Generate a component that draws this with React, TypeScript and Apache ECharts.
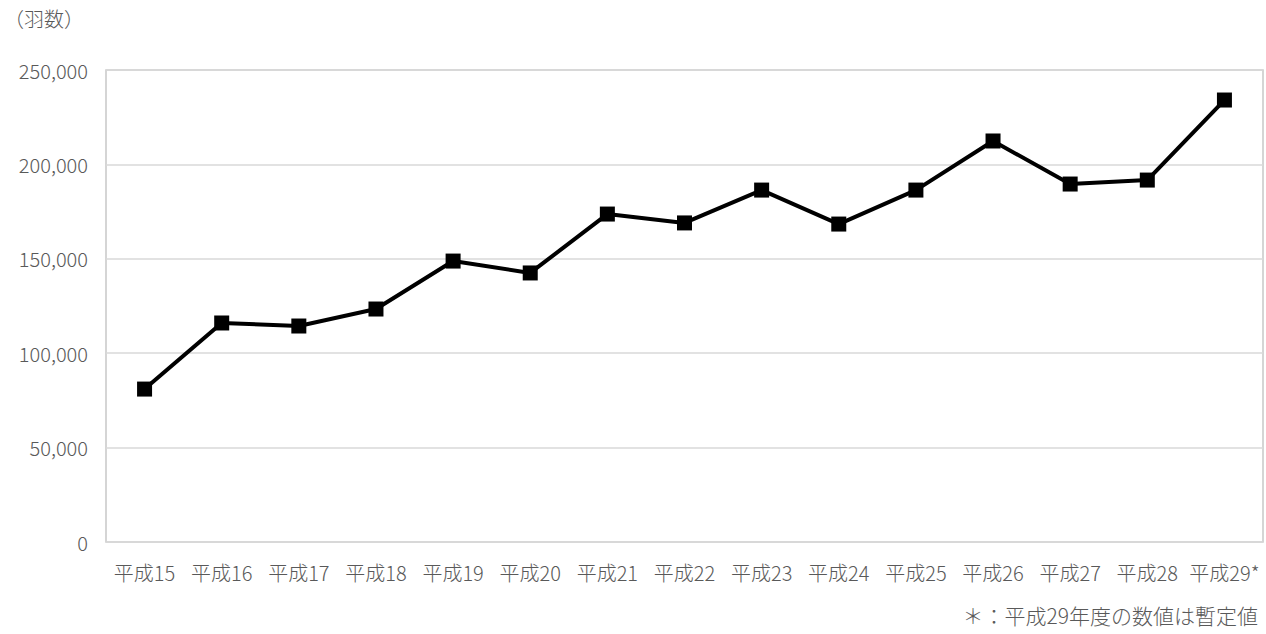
import React, { useEffect, useRef } from "react";
import * as echarts from "echarts";

const categories = ["平成15", "平成16", "平成17", "平成18", "平成19", "平成20", "平成21", "平成22", "平成23", "平成24", "平成25", "平成26", "平成27", "平成28", "平成29*"];
const values = [81000, 116000, 114400, 123400, 148800, 142500, 173700, 169000, 186400, 168400, 186400, 212400, 189600, 191700, 234100];
const unitLabel = "（羽数）";
const footnote = "＊：平成29年度の数値は暫定値";

const FONT = "'Noto Sans CJK JP', 'Noto Sans', sans-serif";

export default function App() {
  const ref = useRef<HTMLDivElement>(null);
  useEffect(() => {
    const chart = echarts.init(ref.current!, undefined, { renderer: "svg" });
    chart.setOption({
      animation: false,
      backgroundColor: "#ffffff",
      textStyle: { fontFamily: FONT },
      grid: {
        left: 106,
        top: 70,
        width: 1157,
        height: 472,
        show: true,
        borderColor: "#c8c8c8",
        borderWidth: 1.5,
      },
      xAxis: {
        type: "category",
        data: categories,
        boundaryGap: true,
        axisLine: { show: false },
        axisTick: { show: false },
        axisLabel: { color: "#595959", fontSize: 20, fontWeight: 300, margin: 20, fontFamily: FONT, interval: 0 },
      },
      yAxis: {
        type: "value",
        min: 0,
        max: 250000,
        interval: 50000,
        axisLine: { show: false },
        axisTick: { show: false },
        splitLine: { lineStyle: { color: "#d9d9d9", width: 1.5 } },
        axisLabel: {
          color: "#595959",
          fontSize: 20,
          fontWeight: 300,
          margin: 18,
          fontFamily: FONT,
          formatter: (v: number) => v.toLocaleString("en-US"),
        },
      },
      graphic: [
        {
          type: "text",
          left: 4,
          top: 8,
          style: { text: unitLabel, fill: "#595959", font: `300 20px ${FONT}` },
        },
        {
          type: "text",
          right: 8,
          top: 604,
          style: { text: footnote, fill: "#595959", font: `300 21px ${FONT}` },
        },
      ],
      series: [
        {
          type: "line",
          data: values,
          symbol: "rect",
          symbolSize: 15,
          itemStyle: { color: "#000000" },
          lineStyle: { color: "#000000", width: 4 },
        },
      ],
    });
    return () => chart.dispose();
  }, []);
  return <div ref={ref} style={{ position: "fixed", left: 0, top: 0, width: 1266, height: 634 }} />;
}
